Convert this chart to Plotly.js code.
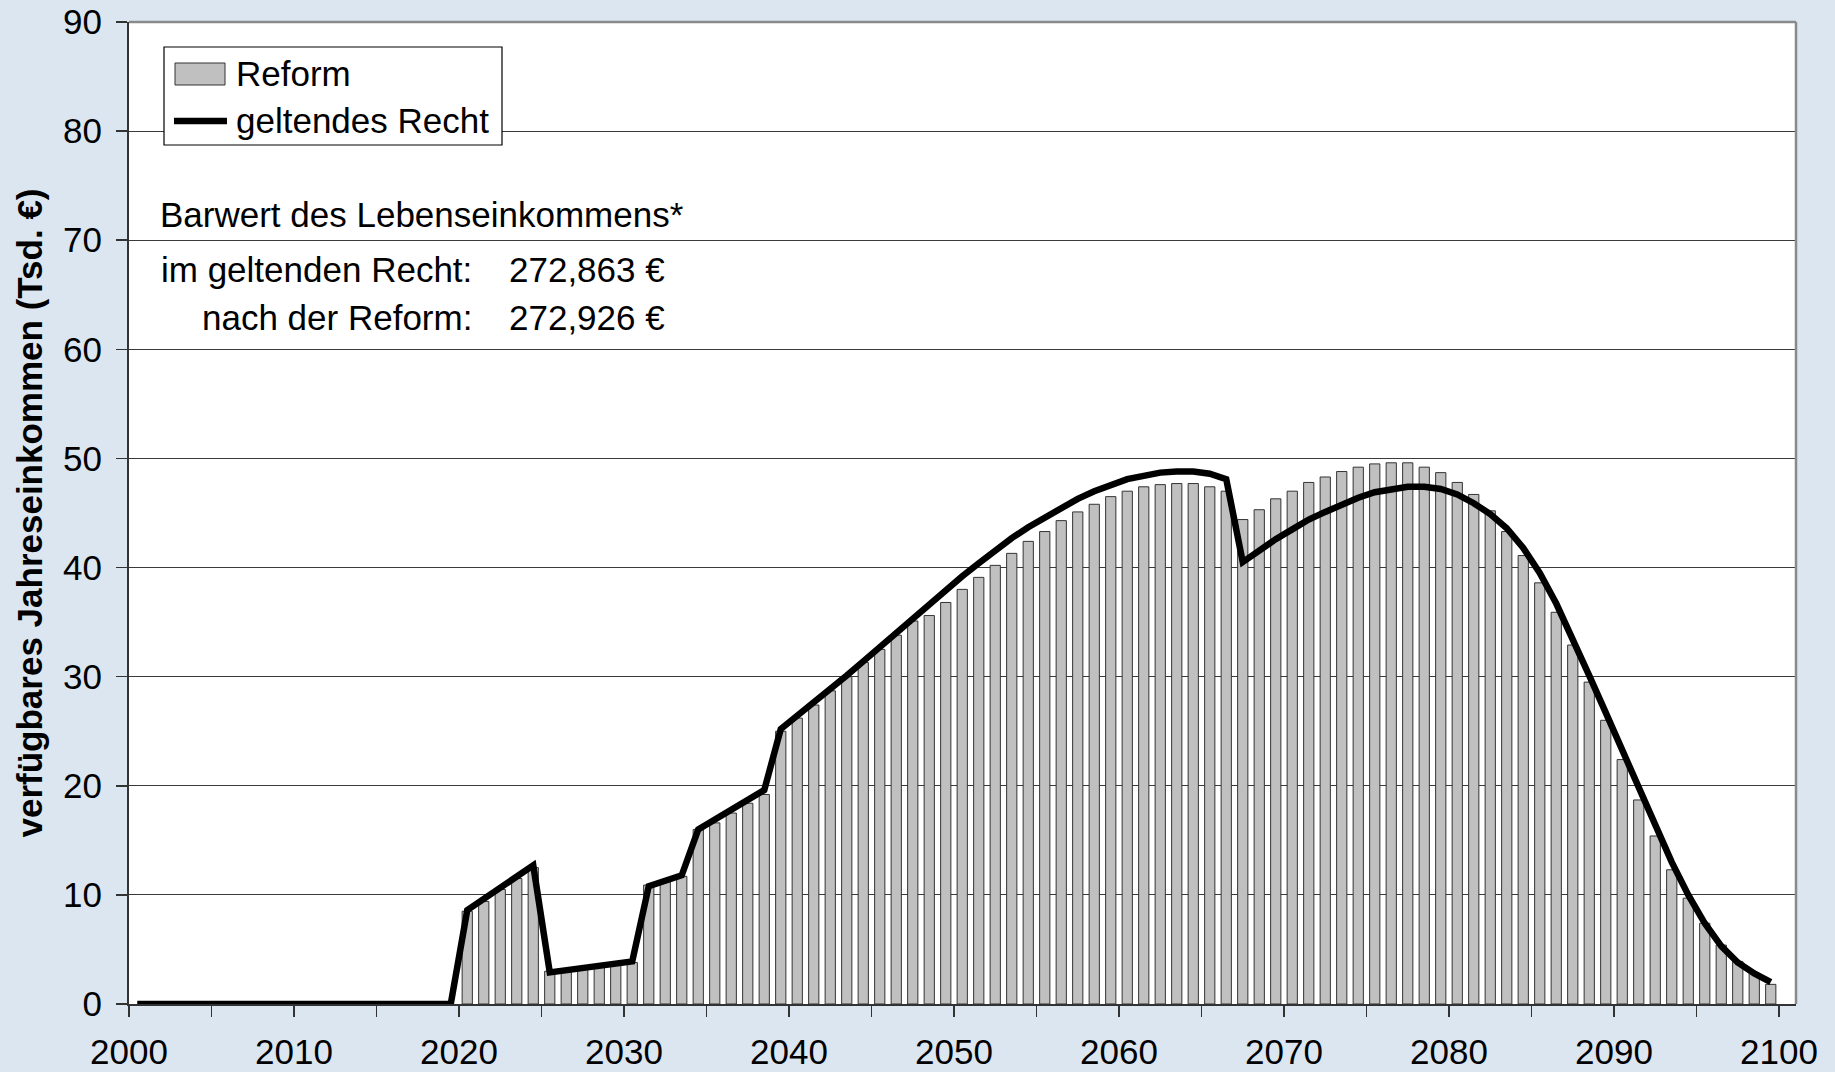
<!DOCTYPE html>
<html><head><meta charset="utf-8">
<script src="https://cdn.plot.ly/plotly-3.0.1.min.js"></script>
<style>html,body{margin:0;padding:0;background:#DCE6F0;} #chart{width:1835px;height:1072px;}</style>
</head><body><div id="chart"></div>
<script>
// ---- data ----
const firstLineYear = 2000;   // "geltendes Recht" series starts here
const firstBarYear = 2020;    // "Reform" series starts here
const geltendesRecht = [
  0,0,0,0,0,0,0,0,0,0, 0,0,0,0,0,0,0,0,0,0,
  8.6,9.6,10.7,11.7,12.7, 2.9,3.1,3.3,3.5,3.7, 3.9,10.8,11.3,11.8,16.0, 16.9,17.8,18.7,19.6,25.2,
  26.4,27.6,28.8,30.1,31.4, 32.7,34.0,35.4,36.7,38.0, 39.2,40.4,41.6,42.7,43.7, 44.6,45.5,46.3,47.0,47.6,
  48.1,48.4,48.7,48.8,48.8, 48.6,48.1,40.5,41.6,42.6, 43.5,44.4,45.1,45.8,46.4, 46.9,47.2,47.4,47.4,47.2,
  46.7,45.9,44.9,43.6,41.8, 39.5,36.7,33.5,30.1,26.7, 23.2,19.7,16.2,13.0,10.0, 7.4,5.3,3.8,2.8,2.0
];
const reform = [
  8.5,9.4,10.5,11.5,12.5, 3.0,3.1,3.3,3.4,3.6, 3.8,10.9,11.2,11.7,16.0, 16.6,17.5,18.4,19.2,25.0,
  26.2,27.4,28.7,30.0,31.3, 32.5,33.8,35.1,35.6,36.8, 38.0,39.1,40.2,41.3,42.4, 43.3,44.3,45.1,45.8,46.5,
  47.0,47.4,47.6,47.7,47.7, 47.4,47.0,44.4,45.3,46.3, 47.0,47.8,48.3,48.8,49.2, 49.5,49.6,49.6,49.2,48.7,
  47.8,46.7,45.2,43.3,41.1, 38.6,35.9,32.9,29.5,26.0, 22.4,18.7,15.4,12.3,9.7, 7.4,5.4,3.9,2.8,1.8
];
const xTickYears = [2000,2010,2020,2030,2040,2050,2060,2070,2080,2090,2100];
const xTickLabels = ['2000','2010','2020','2030','2040','2050','2060','2070','2080','2090','2100'];
const yTicks = [0,10,20,30,40,50,60,70,80,90];
const seriesNames = ['Reform','geltendes Recht'];
const yTitle = 'verfügbares Jahreseinkommen (Tsd. €)';
const noteTitle = 'Barwert des Lebenseinkommens*';
const noteLabels = ['im geltenden Recht:','nach der Reform:'];
const noteValues = ['272,863 €','272,926 €'];

// ---- derived ----
const lineYears = geltendesRecht.map((_, i) => firstLineYear + i);
const barYears = reform.map((_, i) => firstBarYear + i);
const midYear = y => y + 0.5;   // each year's bar sits between its tick and the next

const FONT = 'Liberation Sans, Arial, sans-serif';
const L = 129, R = 1796, T = 22, B = 1004;
const px = x => (x - L) / (R - L);
const py = y => (B - y) / (B - T);

const BAR_FILL = '#C0C0C0', BAR_EDGE = '#333333', LINE_COLOR = '#000000', LINE_W = 6.5;

const traces = [
  {
    type: 'bar', name: seriesNames[0], showlegend: false,
    x: barYears.map(midYear), y: reform,
    width: 0.62,
    marker: {color: BAR_FILL, line: {color: BAR_EDGE, width: 1}}
  },
  {
    type: 'scatter', mode: 'lines', name: seriesNames[1], showlegend: false,
    x: lineYears.map(midYear), y: geltendesRecht,
    line: {color: LINE_COLOR, width: LINE_W}
  }
];

const txt = {family: FONT, size: 35, color: '#000'};
const tickTxt = {family: FONT, size: 35, color: '#000'};
const P = (xv, yv) => ({xref: 'paper', yref: 'paper', x: px(xv), y: py(yv)});

const layout = {
  width: 1835, height: 1072, autosize: false,
  margin: {l: 129, r: 39, t: 22, b: 68, pad: 0},
  paper_bgcolor: '#DCE6F0', plot_bgcolor: '#FFFFFF',
  font: txt,
  showlegend: false,
  xaxis: {
    range: [2000, 2101.03], tickmode: 'array', tickvals: xTickYears, ticktext: xTickLabels,
    ticks: 'outside', ticklen: 11, tickwidth: 1.5, tickcolor: '#333', ticklabelstandoff: 5,
    minor: {dtick: 5, tick0: 2000, ticks: 'outside', ticklen: 11, tickwidth: 1.5, tickcolor: '#333', showgrid: false},
    showgrid: false, zeroline: false, showline: true, linecolor: '#333', linewidth: 2,
    tickfont: tickTxt, automargin: false
  },
  yaxis: {
    range: [0, 90], tickmode: 'array', tickvals: yTicks,
    ticks: 'outside', ticklen: 11, tickwidth: 1.5, tickcolor: '#333', ticklabelstandoff: 7,
    showgrid: true, gridcolor: '#3a3a3a', gridwidth: 1,
    zeroline: false, showline: true, linecolor: '#333', linewidth: 2,
    tickfont: tickTxt, automargin: false,
    title: {text: '<b>' + yTitle + '</b>', font: {family: FONT, size: 35, color: '#000'}, standoff: 10}
  },
  shapes: [
    // plot frame (top / right)
    {type: 'line', xref: 'paper', yref: 'paper', x0: 0, x1: 1, y0: 1, y1: 1, line: {color: '#8a8a8a', width: 2.5}},
    {type: 'line', xref: 'paper', yref: 'paper', x0: 1, x1: 1, y0: 0, y1: 1, line: {color: '#8a8a8a', width: 2.5}},
    // legend box
    {type: 'rect', xref: 'paper', yref: 'paper', x0: px(164), x1: px(502), y0: py(145), y1: py(47),
     fillcolor: '#FFFFFF', line: {color: '#000', width: 1.2}},
    // legend swatch: bars
    {type: 'rect', xref: 'paper', yref: 'paper', x0: px(175), x1: px(225), y0: py(85), y1: py(63),
     fillcolor: BAR_FILL, line: {color: BAR_EDGE, width: 1}},
    // legend swatch: line
    {type: 'line', xref: 'paper', yref: 'paper', x0: px(174), x1: px(227), y0: py(121), y1: py(121),
     line: {color: LINE_COLOR, width: LINE_W}}
  ],
  annotations: [
    Object.assign(P(234, 73), {xanchor: 'left', yanchor: 'middle', text: seriesNames[0], showarrow: false, font: txt}),
    Object.assign(P(234, 120), {xanchor: 'left', yanchor: 'middle', text: seriesNames[1], showarrow: false, font: txt}),
    Object.assign(P(158, 214), {xanchor: 'left', yanchor: 'middle', text: noteTitle, showarrow: false, font: txt}),
    Object.assign(P(474, 269), {xanchor: 'right', yanchor: 'middle', text: noteLabels[0], showarrow: false, font: txt}),
    Object.assign(P(474, 317), {xanchor: 'right', yanchor: 'middle', text: noteLabels[1], showarrow: false, font: txt}),
    Object.assign(P(507, 269), {xanchor: 'left', yanchor: 'middle', text: noteValues[0], showarrow: false, font: txt}),
    Object.assign(P(507, 317), {xanchor: 'left', yanchor: 'middle', text: noteValues[1], showarrow: false, font: txt})
  ]
};

Plotly.newPlot('chart', traces, layout, {staticPlot: true, displayModeBar: false});
</script>
</body></html>
